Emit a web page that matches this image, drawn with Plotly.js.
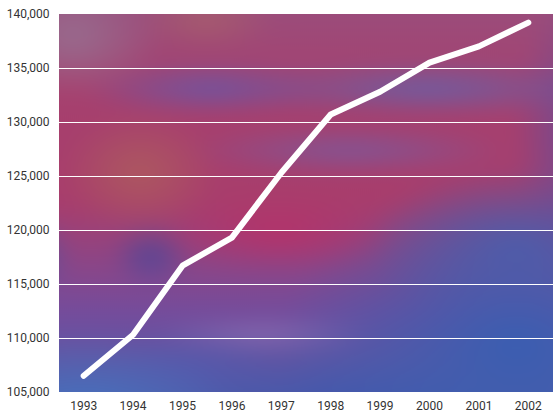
<!DOCTYPE html>
<html>
<head>
<meta charset="utf-8">
<script src="https://cdn.plot.ly/plotly-3.0.1.min.js"></script>
<style>
  html, body { margin:0; padding:0; background:#ffffff; }
  #wrap { position:relative; width:553px; height:412px; }
  #bg { position:absolute; left:59px; top:14px; width:494px; height:378px; overflow:hidden; }
  #bg > div {
    position:absolute; left:-30px; top:-30px; right:-30px; bottom:-30px;
    filter: blur(11px);
    background:
      radial-gradient(ellipse 90px 60px at 8% 12%, rgba(150,120,150,0.75), rgba(150,120,150,0) 100%),
      radial-gradient(ellipse 70px 30px at 32% 8%, rgba(175,105,100,0.6), rgba(175,105,100,0) 100%),
      radial-gradient(ellipse 130px 22px at 33% 24%, rgba(95,90,175,0.9), rgba(95,90,175,0) 100%),
      radial-gradient(ellipse 190px 24px at 72% 24%, rgba(95,100,175,0.9), rgba(95,100,175,0) 100%),
      radial-gradient(ellipse 70px 150px at 100% 35%, rgba(85,80,165,0.75), rgba(85,80,165,0) 100%),
      radial-gradient(ellipse 80px 60px at 20% 43%, rgba(175,100,90,0.7), rgba(175,100,90,0) 100%),
      radial-gradient(ellipse 170px 20px at 58% 38%, rgba(95,105,185,0.65), rgba(95,105,185,0) 100%),
      radial-gradient(ellipse 40px 30px at 22% 62%, rgba(70,70,155,0.85), rgba(70,70,155,0) 100%),
      radial-gradient(ellipse 30px 40px at 2% 62%, rgba(80,80,160,0.8), rgba(80,80,160,0) 100%),
      radial-gradient(ellipse 120px 40px at 45% 57%, rgba(190,45,100,0.75), rgba(190,45,100,0) 100%),
      radial-gradient(ellipse 110px 14px at 42% 80%, rgba(180,150,205,0.45), rgba(180,150,205,0) 100%),
      radial-gradient(ellipse 150px 80px at 88% 60%, rgba(70,95,175,0.85), rgba(70,95,175,0) 100%),
      radial-gradient(ellipse 240px 160px at 88% 82%, rgba(55,95,178,0.95), rgba(55,95,178,0) 100%),
      radial-gradient(ellipse 150px 80px at 10% 98%, rgba(70,115,192,0.95), rgba(70,115,192,0) 100%),
      radial-gradient(ellipse 180px 60px at 55% 98%, rgba(65,85,172,0.9), rgba(65,85,172,0) 100%),
      radial-gradient(ellipse 90px 40px at 30% 88%, rgba(80,90,175,0.7), rgba(80,90,175,0) 100%),
      linear-gradient(to bottom, #97507f 0%, #a6406e 25%, #a83d6c 50%, #744c9c 75%, #4860ab 100%);
  }
  #chart { position:absolute; left:0; top:0; }
  .js-line { stroke-linecap: round !important; stroke-linejoin: round !important; }
</style>
</head>
<body>
<div id="wrap">
  <div id="bg"><div></div></div>
  <div id="chart"></div>
</div>
<script>
const years = ['1993','1994','1995','1996','1997','1998','1999','2000','2001','2002'];
const values = [106500, 110300, 116700, 119300, 125300, 130700, 132800, 135500, 137000, 139200];
const yTicks = [105000, 110000, 115000, 120000, 125000, 130000, 135000, 140000];

const trace = {
  x: years,
  y: values,
  type: 'scatter',
  mode: 'lines',
  line: { color: '#ffffff', width: 6 },
  hoverinfo: 'skip'
};

const layout = {
  width: 553,
  height: 412,
  margin: { l: 59, r: 0, t: 14, b: 20, pad: 0 },
  paper_bgcolor: 'rgba(0,0,0,0)',
  plot_bgcolor: 'rgba(0,0,0,0)',
  showlegend: false,
  font: { family: 'Roboto, "Noto Sans", sans-serif', size: 12, color: '#333333' },
  xaxis: {
    type: 'category',
    range: [-0.5, 9.5],
    showgrid: false,
    zeroline: false,
    showline: false,
    ticks: 'outside',
    ticklen: 3,
    tickcolor: 'rgba(0,0,0,0)',
    fixedrange: true
  },
  yaxis: {
    range: [105000, 140000],
    tickvals: yTicks,
    tickformat: ',d',
    showgrid: true,
    gridcolor: '#ffffff',
    gridwidth: 1,
    zeroline: false,
    showline: false,
    ticks: 'outside',
    ticklen: 6,
    tickcolor: 'rgba(0,0,0,0)',
    fixedrange: true
  }
};

Plotly.newPlot('chart', [trace], layout, { displayModeBar: false, staticPlot: true });
</script>
</body>
</html>
